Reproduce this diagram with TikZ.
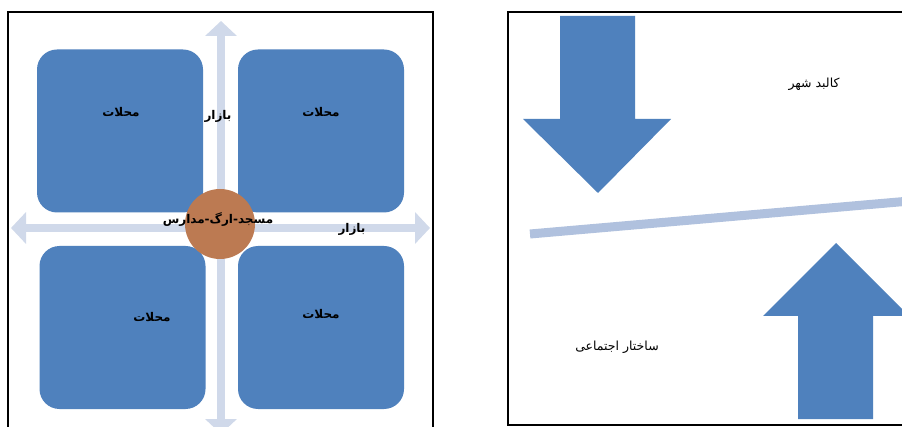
\documentclass[tikz,border=0pt]{standalone}
\usepackage{fontspec}
\newfontfamily\arabicfont[Script=Arabic]{DejaVu Sans}
\TeXXeTstate=1
\usetikzlibrary{arrows.meta}
\definecolor{boxblue}{HTML}{4F81BD}
\definecolor{roadc}{HTML}{D0D9EA}
\definecolor{circc}{HTML}{BC7A52}
\definecolor{linec}{HTML}{B0C1DE}
\tikzset{
  quarter/.style={fill=boxblue, draw=none, rounded corners=20pt, minimum width=166pt, minimum height=163pt, inner sep=0pt},
  road/.style={roadc, line width=8pt, {Triangle[width=31pt,length=15pt]}-{Triangle[width=31pt,length=15pt]}},
  lab/.style={font=\arabicfont\fontsize{12.5}{14}\selectfont, inner sep=1pt},
  blab/.style={font=\arabicfont\bfseries\fontsize{12}{14}\selectfont, inner sep=1pt},
  fatarrow/.style={fill=boxblue, draw=none},
  frame/.style={draw=black, line width=1.3pt},
}
\begin{document}
\begin{tikzpicture}[x=1pt,y=-1pt]
\useasboundingbox (0,0) rectangle (902,427);
\clip (0,0) rectangle (902,427);
\fill[white] (0,0) rectangle (902,427);
% left frame
\draw[frame] (8,440) -- (8,12) -- (433,12) -- (433,440);
% roads
\coordinate (vt) at (221,21);
\coordinate (vb) at (221,434);
\coordinate (hl) at (11,228);
\coordinate (hr) at (430,228);
\draw[road] (vb) -- (vt);
\draw[road] (hl) -- (hr);
% quarters
\node[quarter] (tl) at (120,131) {};
\node[quarter] (tr) at (321,131) {};
\node[quarter] (bl) at (122.5,327.5) {};
\node[quarter] (br) at (321,327.5) {};
% center
\node[circle, fill=circc, minimum size=70pt, inner sep=0pt] (c) at (220,224) {};
% labels
\node[blab] (l1) at (121,112) {\beginR محلات\endR};
\node[blab] (l2) at (321,112) {\beginR محلات\endR};
\node[blab] (l3) at (152,317) {\beginR محلات\endR};
\node[blab] (l4) at (321,314) {\beginR محلات\endR};
\node[blab] (b1) at (218,116) {\beginR بازار\endR};
\node[blab] (b2) at (352,229) {\beginR بازار\endR};
\node[blab] (m) at (218,220) {\beginR مسجد-ارگ-مدارس\endR};
% right frame
\draw[frame] (910,12) -- (508,12) -- (508,425) -- (910,425);
% down arrow
\fill[fatarrow] (560,16) -- (635,16) -- (635,119) -- (671,119) -- (598,193) -- (523,119) -- (560,119) -- cycle;
% up arrow
\fill[fatarrow] (836,243) -- (909,316) -- (873,316) -- (873,419) -- (798,419) -- (798,316) -- (763,316) -- cycle;
% dividing line
\coordinate (da) at (530,234);
\coordinate (db) at (910,201);
\draw[linec, line width=9pt] (da) -- (db);
\node[lab] (k) at (814,84) {\beginR کالبد شهر\endR};
\node[lab] (s) at (617,347) {\beginR ساختار اجتماعی\endR};
\end{tikzpicture}
\end{document}
